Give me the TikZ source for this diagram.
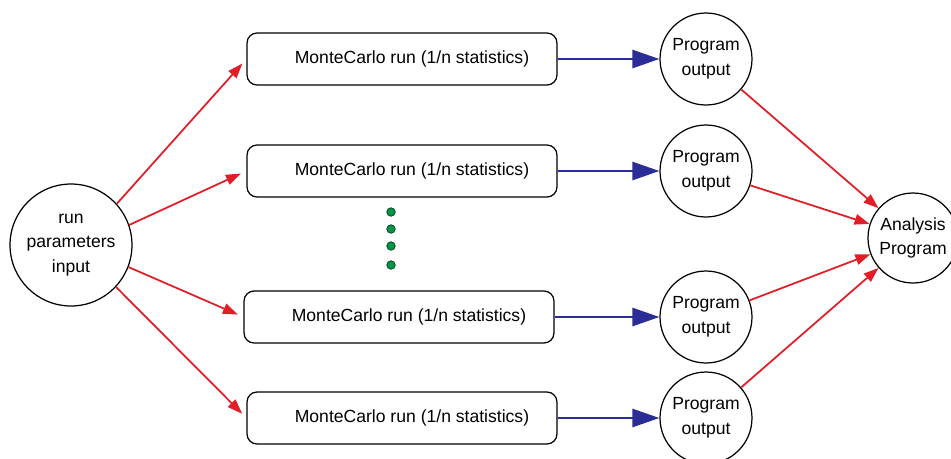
\documentclass[tikz,border=0pt]{standalone}
\usepackage{fontspec}
\setmainfont{Liberation Sans}
\usetikzlibrary{arrows.meta,positioning}
\definecolor{fanred}{RGB}{225,30,40}
\definecolor{feedblue}{RGB}{42,45,150}
\definecolor{dotgreen}{RGB}{0,150,70}
\newcommand{\mcrun}{\hspace*{4mm}MonteCarlo run (1/n statistics)}

\begin{document}
\begin{tikzpicture}[
    x=0.02cm, y=-0.02cm,
    font=\fontsize{10}{14}\selectfont,
    mcbox/.style={draw, rectangle, rounded corners=2mm, line width=0.7pt,
                  minimum width=6.2cm, minimum height=1.04cm, inner sep=0pt},
    ball/.style={draw, circle, line width=0.7pt, align=center, inner sep=0pt,
                 minimum size=1.84cm},
    fan/.style={-{Triangle[length=3mm, width=2.1mm]}, fanred, line width=1pt,
                shorten >=1.2mm},
    feed/.style={-{Triangle[length=5.4mm, width=3.6mm]}, feedblue, line width=1.6pt},
    dot/.style={circle, draw=black!60!dotgreen, fill=dotgreen, inner sep=0pt,
                minimum size=0.17cm}
]
\useasboundingbox (0,0) rectangle (951,458);

\node[ball, minimum size=2.44cm] (params) at (71,245) {run\\parameters\\input};

\node[mcbox] (mc1) at (402,59) {\mcrun};
\node[mcbox] (mc2) at (402,171) {\mcrun};
\node[mcbox] (mc3) at (399,317) {\mcrun};
\node[mcbox] (mc4) at (402,418) {\mcrun};

\node[ball] (out1) at (706,59) {Program\\output};
\node[ball] (out2) at (706,171) {Program\\output};
\node[ball] (out3) at (706,317) {Program\\output};
\node[ball] (out4) at (706,418) {Program\\output};

\node[ball, minimum size=1.8cm] (analysis) at (913,238) {Analysis\\Program};

% the runs left out
\foreach \y/\n in {212/1,229/2,246/3,265/4}
    \node[dot] (skip\n) at (391,\y) {};

\draw[fan] (params.42) -- (mc1.west);
\draw[fan] (params.19) -- (mc2.west);
\draw[fan] (params.-21) -- (mc3.west);
\draw[fan] (params.-43) -- (mc4.west);

\draw[feed] (mc1) -- (out1);
\draw[feed] (mc2) -- (out2);
\draw[feed] (mc3) -- (out3);
\draw[feed] (mc4) -- (out4);

\draw[fan, shorten >=0pt] (out1) -- (analysis);
\draw[fan, shorten >=0pt] (out2) -- (analysis);
\draw[fan, shorten >=0pt] (out3) -- (analysis);
\draw[fan, shorten >=0pt] (out4) -- (analysis);
\end{tikzpicture}
\end{document}
